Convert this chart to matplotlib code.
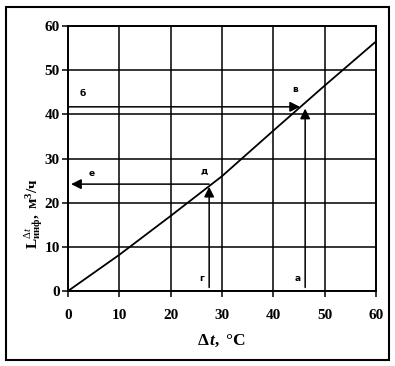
import matplotlib
matplotlib.use("Agg")
import matplotlib.pyplot as plt
from matplotlib.patches import Rectangle

plt.rcParams['font.family'] = ['Liberation Serif', 'DejaVu Serif']
plt.rcParams['mathtext.fontset'] = 'custom'
plt.rcParams['mathtext.rm'] = 'Liberation Serif'
plt.rcParams['mathtext.it'] = 'Liberation Serif:italic'
plt.rcParams['mathtext.bf'] = 'Liberation Serif:bold'
plt.rcParams['mathtext.bfit'] = 'Liberation Serif:bold:italic'

# data
dt = [0, 10, 20, 30, 40, 50, 60]
L = [0, 8.2, 17.0, 26.0, 36.3, 46.5, 56.5]
xticks = [0, 10, 20, 30, 40, 50, 60]
yticks = [0, 10, 20, 30, 40, 50, 60]

# construction arrows: (start, end)
arrows = [((0.0, 41.7), (45.2, 41.7)),   # б
          ((46.2, 0.8), (46.2, 41.3)),   # а
          ((27.5, 0.8), (27.5, 23.6)),   # г
          ((27.5, 24.2), (0.6, 24.2))]   # е
labels = [("б", 2.9, 44.8), ("в", 44.2, 45.6), ("д", 26.6, 27.0),
          ("е", 4.7, 26.5), ("а", 44.8, 2.9), ("г", 26.1, 2.8)]

fig = plt.figure(figsize=(3.95, 3.66), dpi=100)
ax = fig.add_axes([68/395, 1-291/366, (376-68)/395, (291-26)/366])

ax.plot(dt, L, color='black', lw=1.3)
for (x0, y0), (x1, y1) in arrows:
    ax.annotate('', xy=(x1, y1), xytext=(x0, y0),
                arrowprops=dict(arrowstyle='-|>,head_length=0.6,head_width=0.3',
                                color='black', lw=1.1, shrinkA=0, shrinkB=0))
for t, x, y in labels:
    ax.text(x, y, t, fontsize=6.5, fontweight='bold', family='DejaVu Sans',
            ha='center', va='center')

ax.set_xlim(0, 60)
ax.set_ylim(0, 60)
ax.set_xticks(xticks)
ax.set_yticks(yticks)
ax.grid(True, color='black', lw=1.1)
ax.set_axisbelow(True)
for s in ax.spines.values():
    s.set_linewidth(1.4)
ax.tick_params(direction='out', length=4, width=1.1, labelsize=11)
ax.tick_params(axis='x', pad=9)
ax.tick_params(axis='y', pad=2)
for lab in ax.get_xticklabels() + ax.get_yticklabels():
    lab.set_fontweight('bold')

ax.set_xlabel(r'$\mathbf{\Delta}\,\mathbfit{t}\mathbf{,\ °C}$', fontsize=12.5, labelpad=8)
ax.set_ylabel(r'$\mathbf{L}^{\mathit{\Delta t}}_{\mathbf{инф}}\mathbf{,\ м^3/ч}$',
              fontsize=11)
ax.yaxis.set_label_coords(-0.075, 0.29)

fig.patches.append(Rectangle((6/395, 1-360/366), 383/395, 353/366,
                             transform=fig.transFigure, fill=False,
                             edgecolor='black', lw=1.5))

fig.savefig('out.png', dpi=100)
